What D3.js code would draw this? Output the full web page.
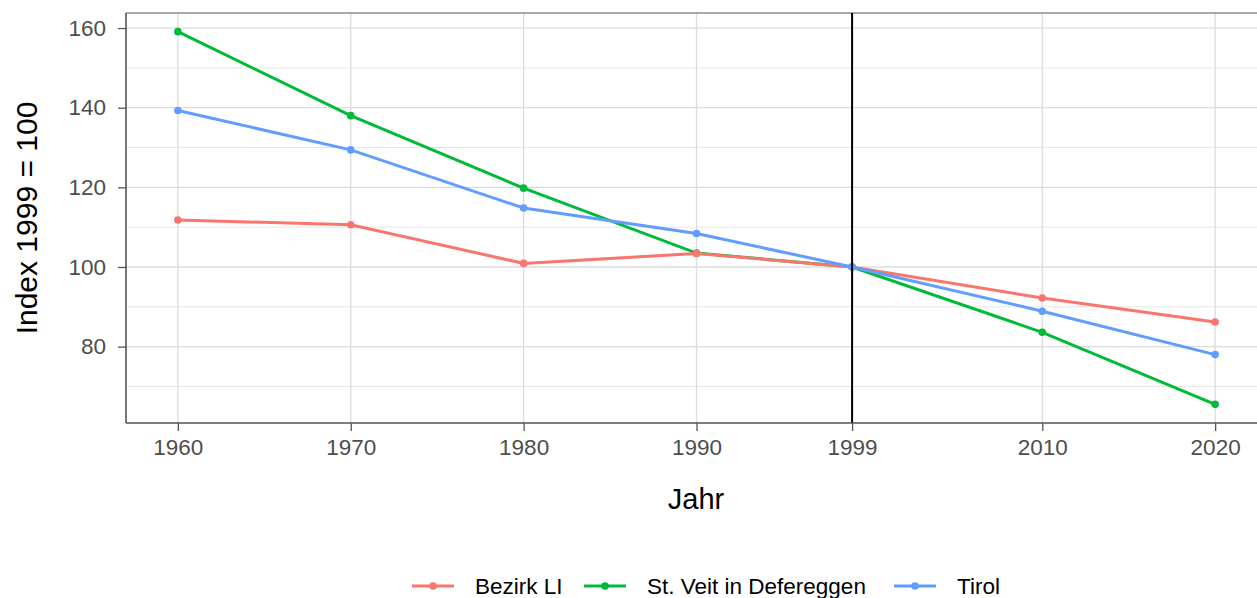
<!DOCTYPE html>
<html>
<head>
<meta charset="utf-8">
<script src="https://cdn.jsdelivr.net/npm/d3@7"></script>
<style>
  body { margin: 0; background: white; }
  svg { display: block; font-family: "Liberation Sans", Arial, sans-serif; }
</style>
</head>
<body>
<svg id="chart" width="1257" height="598"></svg>
<script>
// data
var years = [1960, 1970, 1980, 1990, 1999, 2010, 2020];
var seriesNames = ["Bezirk LI", "St. Veit in Defereggen", "Tirol"];
var bezirkLI = [111.8, 110.6, 100.9, 103.4, 100, 92.2, 86.2];
var stVeit = [159.1, 138.0, 119.8, 103.5, 100, 83.6, 65.5];
var tirol = [139.3, 129.4, 114.8, 108.4, 100, 88.9, 78.0];
var colors = ["#F8766D", "#00BA38", "#619CFF"];
var drawOrder = [1, 0, 2];   // green goes under red, blue on top
var xTicks = [1960, 1970, 1980, 1990, 1999, 2010, 2020];
var yTicks = [80, 100, 120, 140, 160];
var yMinor = [70, 90, 110, 130, 150];
var refYear = 1999;

var svg = d3.select("#chart");
var pLeft = 126, pRight = 1267, pTop = 13, pBottom = 423;

var all = [bezirkLI, stVeit, tirol];
var series = seriesNames.map(function(n, i){
  return { name: n, color: colors[i], values: years.map(function(y, j){ return { year: y, v: all[i][j] }; }) };
});

// ggplot style 5% expansion
var xExt = d3.extent(years);
var xPad = (xExt[1] - xExt[0]) * 0.05;
var yExt = d3.extent(d3.merge(all));
var yPad = (yExt[1] - yExt[0]) * 0.05;

var x = d3.scaleLinear().domain([xExt[0] - xPad, xExt[1] + xPad]).range([pLeft, pRight]);
var y = d3.scaleLinear().domain([yExt[0] - yPad, yExt[1] + yPad]).range([pBottom, pTop]);

var grid = svg.append("g");
grid.selectAll(".minor").data(yMinor).enter().append("line")
  .attr("x1", pLeft).attr("x2", pRight)
  .attr("y1", function(d){ return y(d); }).attr("y2", function(d){ return y(d); })
  .style("stroke", "#e6e6e6").style("stroke-width", 1);
grid.selectAll(".major").data(yTicks).enter().append("line")
  .attr("x1", pLeft).attr("x2", pRight)
  .attr("y1", function(d){ return y(d); }).attr("y2", function(d){ return y(d); })
  .style("stroke", "#dcdcdc").style("stroke-width", 1.3);
grid.selectAll(".vmajor").data(xTicks).enter().append("line")
  .attr("y1", pTop).attr("y2", pBottom)
  .attr("x1", function(d){ return x(d); }).attr("x2", function(d){ return x(d); })
  .style("stroke", "#dcdcdc").style("stroke-width", 1.3);

// panel border (top is lighter)
svg.append("line").attr("x1", pLeft).attr("x2", pRight).attr("y1", pTop).attr("y2", pTop)
  .style("stroke", "#8c8c8c").style("stroke-width", 1.5);

var line = d3.line().x(function(d){ return x(d.year); }).y(function(d){ return y(d.v); });

var sg = svg.selectAll(".series").data(drawOrder.map(function(i){ return series[i]; })).enter().append("g");
sg.append("path")
  .attr("d", function(d){ return line(d.values); })
  .style("fill", "none")
  .style("stroke", function(d){ return d.color; })
  .style("stroke-width", 3);
sg.selectAll("circle").data(function(d){ return d.values.map(function(v){ return { c: d.color, year: v.year, v: v.v }; }); })
  .enter().append("circle")
  .attr("cx", function(d){ return x(d.year); })
  .attr("cy", function(d){ return y(d.v); })
  .attr("r", 3.8)
  .style("fill", function(d){ return d.c; });

// reference year line
svg.append("line")
  .attr("x1", x(refYear)).attr("x2", x(refYear)).attr("y1", pTop).attr("y2", pBottom)
  .style("stroke", "black").style("stroke-width", 2);

// axes
var xAxis = svg.append("g").attr("transform", "translate(0," + pBottom + ")")
  .call(d3.axisBottom(x).tickValues(xTicks).tickFormat(d3.format("d")).tickSizeOuter(0).tickSizeInner(8).tickPadding(8));
var yAxis = svg.append("g").attr("transform", "translate(" + pLeft + ",0)")
  .call(d3.axisLeft(y).tickValues(yTicks).tickSizeOuter(0).tickSizeInner(8).tickPadding(12));
[xAxis, yAxis].forEach(function(a){
  a.select(".domain").style("stroke", "#555").style("stroke-width", 1.6);
  a.selectAll(".tick line").style("stroke", "#555").style("stroke-width", 1.3);
  a.selectAll(".tick text").style("fill", "#4d4d4d").style("font-size", "22.5px")
    .style("font-family", "'Liberation Sans', Arial, sans-serif");
});
xAxis.select(".domain").attr("d", "M" + pLeft + ",0H" + pRight);
yAxis.select(".domain").attr("d", "M0," + pTop + "V" + pBottom);

// axis titles
svg.append("text")
  .attr("transform", "translate(37," + ((pTop + pBottom) / 2) + ") rotate(-90)")
  .attr("text-anchor", "middle")
  .style("font-size", "30px").style("fill", "black")
  .text("Index 1999 = 100");
svg.append("text")
  .attr("x", 696).attr("y", 509)
  .attr("text-anchor", "middle")
  .style("font-size", "29px").style("fill", "black")
  .text("Jahr");

// legend
var legendX = [412, 584, 894];
var lg = svg.selectAll(".legend").data(series).enter().append("g")
  .attr("transform", function(d, i){ return "translate(" + legendX[i] + ",586)"; });
lg.append("line").attr("x1", 0).attr("x2", 42).attr("y1", 0).attr("y2", 0)
  .style("stroke", function(d){ return d.color; }).style("stroke-width", 3);
lg.append("circle").attr("cx", 21).attr("cy", 0).attr("r", 3.8)
  .style("fill", function(d){ return d.color; });
lg.append("text").attr("x", 63).attr("y", 8)
  .style("font-size", "22.5px").style("fill", "black")
  .text(function(d){ return d.name; });
</script>
</body>
</html>
